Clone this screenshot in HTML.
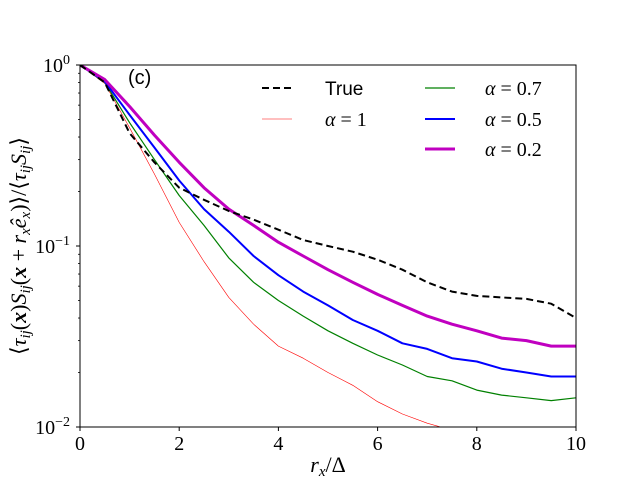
<!DOCTYPE html>
<html><head><meta charset="utf-8"><style>
body{margin:0;background:#fff}
svg text{font-family:"Liberation Serif",serif;fill:#000}
</style></head><body>
<svg id="chart" width="640" height="480" xmlns="http://www.w3.org/2000/svg">
<defs><clipPath id="clip"><rect x="80" y="65" width="496" height="362"/></clipPath></defs>
<g id="series" clip-path="url(#clip)"></g>
<rect x="80" y="65" width="496" height="362" fill="none" stroke="#000" stroke-width="1"/>
<g id="axes"></g>
<text x="128" y="84" font-size="20" style="font-family:'Liberation Sans',sans-serif">(c)</text>
<text x="328" y="472" font-size="22" text-anchor="middle"><tspan font-style="italic">r</tspan><tspan font-style="italic" font-size="15" dy="4">x</tspan><tspan dy="-4">/Δ</tspan></text>
<text transform="translate(26,246) rotate(-90)" font-size="22" text-anchor="middle">⟨<tspan font-style="italic">τ</tspan><tspan font-style="italic" font-size="15" dy="4">ij</tspan><tspan dy="-4">(</tspan><tspan font-style="italic" font-weight="bold">x</tspan>)<tspan font-style="italic">S</tspan><tspan font-style="italic" font-size="15" dy="4">ij</tspan><tspan dy="-4">(</tspan><tspan font-style="italic" font-weight="bold">x</tspan> + <tspan font-style="italic">r</tspan><tspan font-style="italic" font-size="15" dy="4">x</tspan><tspan font-style="italic" dy="-4">ê</tspan><tspan font-style="italic" font-size="15" dy="4">x</tspan><tspan dy="-4">)⟩/⟨</tspan><tspan font-style="italic">τ</tspan><tspan font-style="italic" font-size="15" dy="4">ij</tspan><tspan font-style="italic" dy="-4">S</tspan><tspan font-style="italic" font-size="15" dy="4">ij</tspan><tspan dy="-4">⟩</tspan></text>
<g id="legend">
<line x1="262" y1="88" x2="292" y2="88" stroke="#000" stroke-width="2" stroke-dasharray="7,4"/>
<text x="325" y="95" font-size="19" style="font-family:'Liberation Sans',sans-serif">True</text>
<line x1="262" y1="119" x2="292" y2="119" stroke="red" stroke-width="0.6"/>
<text x="325" y="126" font-size="20"><tspan font-style="italic">α</tspan> = 1</text>
<line x1="425" y1="88" x2="455" y2="88" stroke="green" stroke-width="1.2"/>
<text x="485" y="95" font-size="20"><tspan font-style="italic">α</tspan> = 0.7</text>
<line x1="425" y1="119" x2="455" y2="119" stroke="blue" stroke-width="2"/>
<text x="485" y="126" font-size="20"><tspan font-style="italic">α</tspan> = 0.5</text>
<line x1="425" y1="149" x2="455" y2="149" stroke="#c000c0" stroke-width="3"/>
<text x="485" y="156" font-size="20"><tspan font-style="italic">α</tspan> = 0.2</text>
</g>
</svg>
<script>
const xs=[0,0.5,1,1.5,2,2.5,3,3.5,4,4.5,5,5.5,6,6.5,7,7.5,8,8.5,9,9.5,10];
const trueVals=[1,0.80,0.42,0.29,0.21,0.18,0.156,0.14,0.123,0.108,0.10,0.093,0.084,0.074,0.063,0.056,0.053,0.052,0.051,0.048,0.040];
const a02=[1,0.83,0.59,0.41,0.29,0.21,0.16,0.13,0.105,0.088,0.074,0.063,0.054,0.047,0.041,0.037,0.034,0.031,0.030,0.028,0.028];
const a05=[1,0.81,0.53,0.35,0.23,0.16,0.12,0.088,0.069,0.056,0.047,0.039,0.034,0.029,0.027,0.024,0.023,0.021,0.020,0.019,0.019];
const a07=[1,0.80,0.48,0.30,0.19,0.13,0.086,0.063,0.050,0.041,0.034,0.029,0.025,0.022,0.019,0.018,0.016,0.015,0.0145,0.014,0.0145];
const a1=[1,0.79,0.45,0.25,0.135,0.082,0.052,0.037,0.028,0.024,0.020,0.017,0.0138,0.0118,0.0105,0.0096,0.0088,0.0081,0.0075,0.007,0.0065];
const xTicks=[0,2,4,6,8,10];
const yDecades=[0,-1,-2];
const X=v=>80+v*49.6, Y=v=>65-Math.log10(v)*181;
const NS="http://www.w3.org/2000/svg";
const sg=document.getElementById('series'), ag=document.getElementById('axes');
function mk(t,a,p){const e=document.createElementNS(NS,t);for(const k in a)e.setAttribute(k,a[k]);p.appendChild(e);return e;}
function line(vals,color,w,dash,name){
 const e=mk('path',{d:vals.map((v,i)=>(i?'L':'M')+X(xs[i]).toFixed(1)+','+Y(v).toFixed(1)).join(''),fill:'none',stroke:color,'stroke-width':w,'stroke-dasharray':dash||'none','stroke-linejoin':'round'},sg);
 
 
}
line(a1,'red',0.6,null,'series-alpha-1');
line(a07,'green',1.2,null,'series-alpha-0.7');
line(a05,'blue',2,null,'series-alpha-0.5');
line(a02,'#c000c0',3,null,'series-alpha-0.2');
line(trueVals,'#000',2,'7,4','series-true');
xTicks.forEach(t=>{
 mk('line',{x1:X(t),x2:X(t),y1:427,y2:431,stroke:'#000'},ag);
 const tx=mk('text',{x:X(t),y:450,'font-size':20,'text-anchor':'middle'},ag);tx.textContent=t;
 
 
});
yDecades.forEach(d=>{
 const y=Y(Math.pow(10,d));
 mk('line',{x1:76,x2:80,y1:y,y2:y,stroke:'#000'},ag);
 const tx=mk('text',{x:70,y:y+7,'font-size':20,'text-anchor':'end'},ag);
 tx.innerHTML='10<tspan font-size="14" dy="-8">'+(d===0?'0':'−'+(-d))+'</tspan>';
 
 
 if(d>-2)for(let m=2;m<10;m++){const yy=Y(m*Math.pow(10,d-1));mk('line',{x1:78,x2:80,y1:yy,y2:yy,stroke:'#000','stroke-width':0.8},ag);}
});
</script>
</body></html>
